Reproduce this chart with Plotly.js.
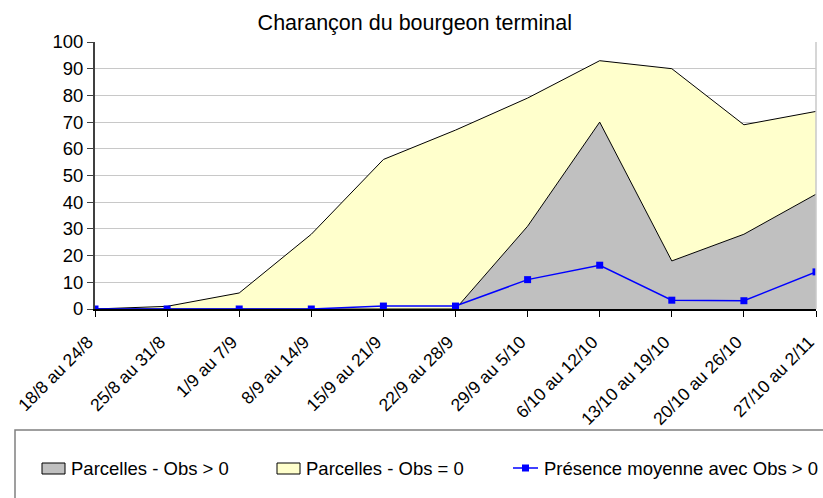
<!DOCTYPE html>
<html>
<head>
<meta charset="utf-8">
<script src="https://cdn.plot.ly/plotly-3.0.1.min.js"></script>
<style>html,body{margin:0;padding:0;background:#fff;}#chart{width:823px;height:498px;}</style>
</head>
<body>
<div id="chart"></div>
<script>
var categories = ["18/8 au 24/8","25/8 au 31/8","1/9 au 7/9","8/9 au 14/9","15/9 au 21/9","22/9 au 28/9","29/9 au 5/10","6/10 au 12/10","13/10 au 19/10","20/10 au 26/10","27/10 au 2/11"];
var obsPositive = [0, 0, 0, 0, 0, 0, 31, 70, 18, 28, 43];
var obsZero = [0, 1, 6, 28, 56, 67, 48, 23, 72, 41, 31];
var presence = [0, 0, 0, 0, 1.1, 1.1, 11, 16.4, 3.3, 3.1, 13.9];
var yTicks = [0,10,20,30,40,50,60,70,80,90,100];
var seriesNames = ["Parcelles - Obs > 0", "Parcelles - Obs = 0", "Présence moyenne avec Obs > 0"];

var font = "Liberation Sans, Arial, sans-serif";

var traces = [
  {x: categories, y: obsPositive, name: seriesNames[0], type: "scatter", mode: "lines",
   stackgroup: "one", fillcolor: "#c0c0c0", line: {color: "#000000", width: 1}, hoverinfo: "skip"},
  {x: categories, y: obsZero, name: seriesNames[1], type: "scatter", mode: "lines",
   stackgroup: "one", fillcolor: "#ffffcc", line: {color: "#000000", width: 1}, hoverinfo: "skip"},
  {x: categories, y: presence, name: seriesNames[2], type: "scatter", mode: "lines+markers",
   line: {color: "#0000ff", width: 1.5}, marker: {symbol: "square", size: 7, color: "#0000ff"}, hoverinfo: "skip"}
];

// pixel -> paper helpers (plot area: x 95..816, y 309..42)
function px(p) { return (p - 95) / 721; }
function py(p) { return (309 - p) / 267; }

var legendFont = {family: font, size: 18.5, color: "#000000"};
var annotations = [
  {xref: "paper", yref: "paper", x: px(69), y: py(468), xanchor: "left", yanchor: "middle", text: seriesNames[0], showarrow: false, font: legendFont},
  {xref: "paper", yref: "paper", x: px(304), y: py(468), xanchor: "left", yanchor: "middle", text: seriesNames[1], showarrow: false, font: legendFont},
  {xref: "paper", yref: "paper", x: px(542), y: py(468), xanchor: "left", yanchor: "middle", text: seriesNames[2], showarrow: false, font: legendFont}
];

var layout = {
  width: 823, height: 498,
  margin: {l: 95, r: 7, t: 42, b: 189},
  paper_bgcolor: "#ffffff", plot_bgcolor: "#ffffff",
  font: {family: font, color: "#000000"},
  title: {text: "Charançon du bourgeon terminal", font: {family: font, size: 21.5, color: "#000000"},
          x: 0.504, xanchor: "center", y: 0.955, yanchor: "middle"},
  showlegend: false,
  xaxis: {type: "category", range: [0, 10], showgrid: false, zeroline: false,
          showline: true, linecolor: "#000000", linewidth: 2,
          ticks: "outside", ticklen: 6, tickcolor: "#000000", tickwidth: 1,
          ticklabelstandoff: 8, ticklabelshift: -7,
          tickangle: -45, tickfont: {family: font, size: 17.5, color: "#000000"}, fixedrange: true},
  yaxis: {range: [0, 100], tickvals: yTicks, ticktext: yTicks.map(String),
          showgrid: true, gridcolor: "#c8c8c8", gridwidth: 1, zeroline: false,
          showline: true, linecolor: "#404040", linewidth: 2,
          ticks: "outside", ticklen: 6, tickcolor: "#404040",
          tickfont: {family: font, size: 18.5, color: "#000000"}, fixedrange: true},
  annotations: annotations,
  shapes: [
    {type: "line", xref: "paper", yref: "paper", x0: 1, x1: 1, y0: 0, y1: 1,
     line: {color: "#c8c8c8", width: 1.5}},
    {type: "rect", xref: "paper", yref: "paper", x0: px(15), x1: px(835), y0: py(430), y1: py(515),
     line: {color: "#808080", width: 1.5}, fillcolor: "rgba(0,0,0,0)", layer: "below"},
    {type: "rect", xref: "paper", yref: "paper", x0: px(42), x1: px(65), y0: py(463), y1: py(474),
     line: {color: "#000000", width: 1}, fillcolor: "#c0c0c0"},
    {type: "rect", xref: "paper", yref: "paper", x0: px(277), x1: px(300), y0: py(463), y1: py(474),
     line: {color: "#000000", width: 1}, fillcolor: "#ffffcc"},
    {type: "line", xref: "paper", yref: "paper", x0: px(513), x1: px(538), y0: py(468), y1: py(468),
     line: {color: "#0000ff", width: 1.5}},
    {type: "rect", xref: "paper", yref: "paper", x0: px(522), x1: px(529), y0: py(464.5), y1: py(471.5),
     line: {color: "#0000ff", width: 0}, fillcolor: "#0000ff"}
  ]
};

Plotly.newPlot("chart", traces, layout, {displayModeBar: false, staticPlot: true});
</script>
</body>
</html>
